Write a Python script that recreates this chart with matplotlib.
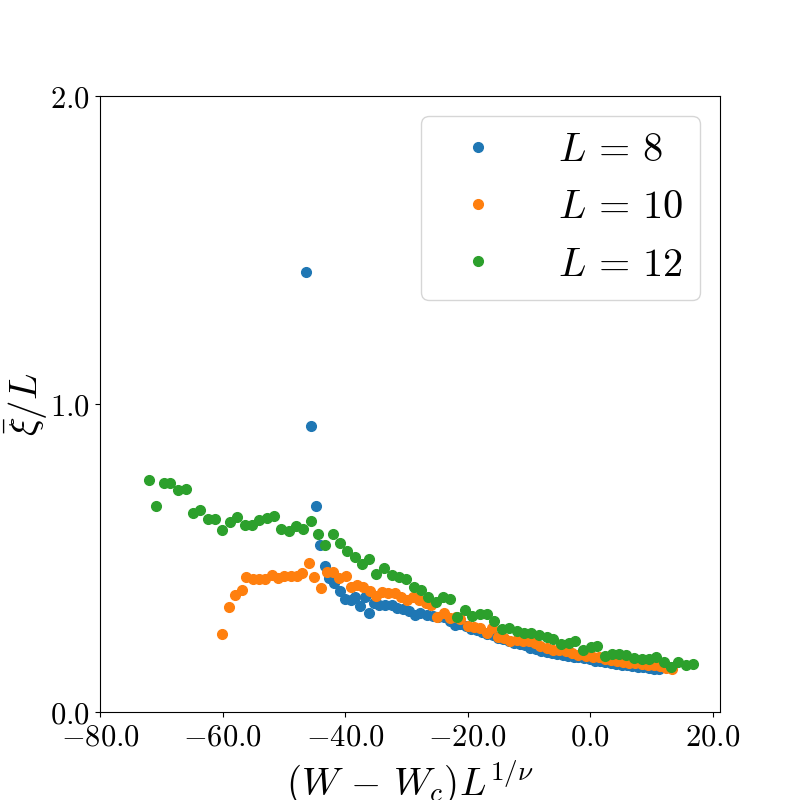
import matplotlib
matplotlib.use("Agg")
import matplotlib.pyplot as plt
from matplotlib.ticker import FuncFormatter

plt.rcParams['mathtext.fontset'] = 'cm'
plt.rcParams['font.family'] = 'serif'
plt.rcParams['font.serif'] = ['DejaVu Serif']

labels = [r'$L\,=\,8$', r'$L\,=\,10$', r'$L\,=\,12$']

x_8 = [-46.4, -45.6, -44.8, -44.1, -43.3, -42.6, -41.8, -40.9, -40.0, -39.1,
       -38.4, -37.6, -36.7, -36.1, -35.3, -34.4, -33.4, -32.4, -31.5, -30.5,
       -29.6, -28.6, -27.7, -26.7, -25.7, -24.8, -23.9, -22.9, -22.1, -21.2,
       -20.3, -19.4, -18.5, -17.7, -16.8, -15.9, -15.0, -14.2, -13.3, -12.4,
       -11.5, -10.6, -9.8, -8.9, -8.0, -7.1, -6.2, -5.4, -4.5, -3.6,
       -2.7, -1.9, -1.0, -0.1, 0.8, 1.6, 2.5, 3.4, 4.3, 5.2,
       6.0, 6.9, 7.8, 8.7, 9.6, 10.4, 11.3]
y_8 = [1.427, 0.930, 0.668, 0.543, 0.473, 0.435, 0.419, 0.393, 0.367, 0.364,
       0.373, 0.345, 0.373, 0.323, 0.353, 0.348, 0.348, 0.348, 0.337, 0.334,
       0.329, 0.315, 0.323, 0.315, 0.312, 0.310, 0.307, 0.294, 0.283, 0.285,
       0.280, 0.269, 0.265, 0.260, 0.252, 0.250, 0.240, 0.236, 0.229, 0.225,
       0.220, 0.217, 0.207, 0.205, 0.198, 0.195, 0.191, 0.188, 0.185, 0.183,
       0.180, 0.177, 0.175, 0.172, 0.167, 0.165, 0.163, 0.160, 0.157, 0.153,
       0.152, 0.149, 0.146, 0.145, 0.143, 0.141, 0.139]

x_10 = [-60.1, -59.0, -58.0, -56.9, -56.1, -55.0, -54.1, -53.1, -52.0, -51.0,
        -50.0, -48.9, -47.9, -47.0, -45.9, -45.1, -44.0, -43.0, -42.0, -41.0,
        -39.9, -39.0, -38.0, -37.0, -36.0, -34.9, -34.0, -33.0, -31.9, -30.8,
        -29.9, -28.9, -27.9, -26.8, -25.9, -25.0, -23.9, -22.9, -21.9, -21.2,
        -19.9, -19.0, -17.9, -16.9, -16.0, -15.0, -14.0, -13.0, -12.0, -11.0,
        -10.0, -9.0, -8.1, -7.0, -6.0, -5.1, -4.0, -2.9, -1.9, -0.6,
        0.4, 1.4, 2.4, 3.4, 4.4, 5.4, 6.4, 7.4, 8.4, 9.4,
        10.4, 11.4, 12.4, 13.3]
y_10 = [0.254, 0.341, 0.380, 0.397, 0.438, 0.433, 0.433, 0.433, 0.446, 0.435,
        0.440, 0.440, 0.440, 0.451, 0.484, 0.438, 0.401, 0.456, 0.453, 0.435,
        0.442, 0.406, 0.411, 0.406, 0.394, 0.377, 0.391, 0.386, 0.386, 0.375,
        0.364, 0.372, 0.364, 0.355, 0.348, 0.310, 0.323, 0.305, 0.310, 0.301,
        0.280, 0.275, 0.272, 0.256, 0.272, 0.245, 0.240, 0.231, 0.234, 0.231,
        0.229, 0.223, 0.215, 0.207, 0.202, 0.202, 0.199, 0.191, 0.185, 0.182,
        0.180, 0.178, 0.172, 0.168, 0.166, 0.163, 0.160, 0.158, 0.156, 0.152,
        0.153, 0.148, 0.142, 0.141]

x_12 = [-72.0, -70.9, -69.6, -68.5, -67.3, -66.0, -64.9, -63.7, -62.4, -61.2,
        -60.1, -58.8, -57.6, -56.4, -55.2, -54.1, -52.8, -51.6, -50.5, -49.2,
        -48.0, -46.9, -45.6, -44.4, -43.3, -42.0, -40.8, -39.7, -38.4, -37.2,
        -36.1, -34.9, -33.7, -32.3, -31.2, -30.0, -28.8, -27.6, -26.4, -25.2,
        -24.0, -22.8, -21.7, -20.5, -19.3, -18.0, -16.8, -15.7, -14.4, -13.2,
        -12.0, -10.8, -9.6, -8.4, -7.1, -6.0, -4.8, -3.5, -2.4, -1.2,
        0.1, 1.2, 2.4, 3.6, 4.7, 5.9, 7.2, 8.4, 9.6, 10.8,
        12.0, 13.2, 14.3, 15.6, 16.8]
y_12 = [0.754, 0.670, 0.744, 0.744, 0.721, 0.725, 0.646, 0.656, 0.627, 0.627,
        0.592, 0.617, 0.634, 0.607, 0.607, 0.623, 0.630, 0.637, 0.594, 0.589,
        0.604, 0.594, 0.620, 0.579, 0.541, 0.579, 0.550, 0.523, 0.503, 0.482,
        0.498, 0.448, 0.467, 0.445, 0.438, 0.433, 0.406, 0.397, 0.373, 0.358,
        0.372, 0.367, 0.310, 0.331, 0.312, 0.319, 0.319, 0.296, 0.269, 0.274,
        0.264, 0.258, 0.258, 0.250, 0.242, 0.236, 0.220, 0.225, 0.231, 0.202,
        0.211, 0.215, 0.183, 0.189, 0.189, 0.185, 0.175, 0.171, 0.171, 0.177,
        0.163, 0.145, 0.162, 0.153, 0.155]

fig = plt.figure(figsize=(8, 8), dpi=100)
ax = fig.add_subplot(111)

ax.plot(x_8, y_8, 'o', markersize=7, label=labels[0])
ax.plot(x_10, y_10, 'o', markersize=7, label=labels[1])
ax.plot(x_12, y_12, 'o', markersize=7, label=labels[2])

ax.set_xlim(-80, 21.2)
ax.set_ylim(0, 2)
ax.set_xticks([-80, -60, -40, -20, 0, 20])
ax.set_yticks([0, 1, 2])
fmt = FuncFormatter(lambda v, pos: '$%.1f$' % v)
ax.xaxis.set_major_formatter(fmt)
ax.yaxis.set_major_formatter(fmt)
ax.tick_params(labelsize=22)

ax.set_xlabel(r'$(W\,-\,W_c)L^{1/\nu}$', fontsize=28)
ax.set_ylabel(r'$\bar{\xi}/L$', fontsize=28, labelpad=0)

ax.legend(fontsize=29, loc='upper right', handletextpad=1.0)

plt.savefig("out.png")
